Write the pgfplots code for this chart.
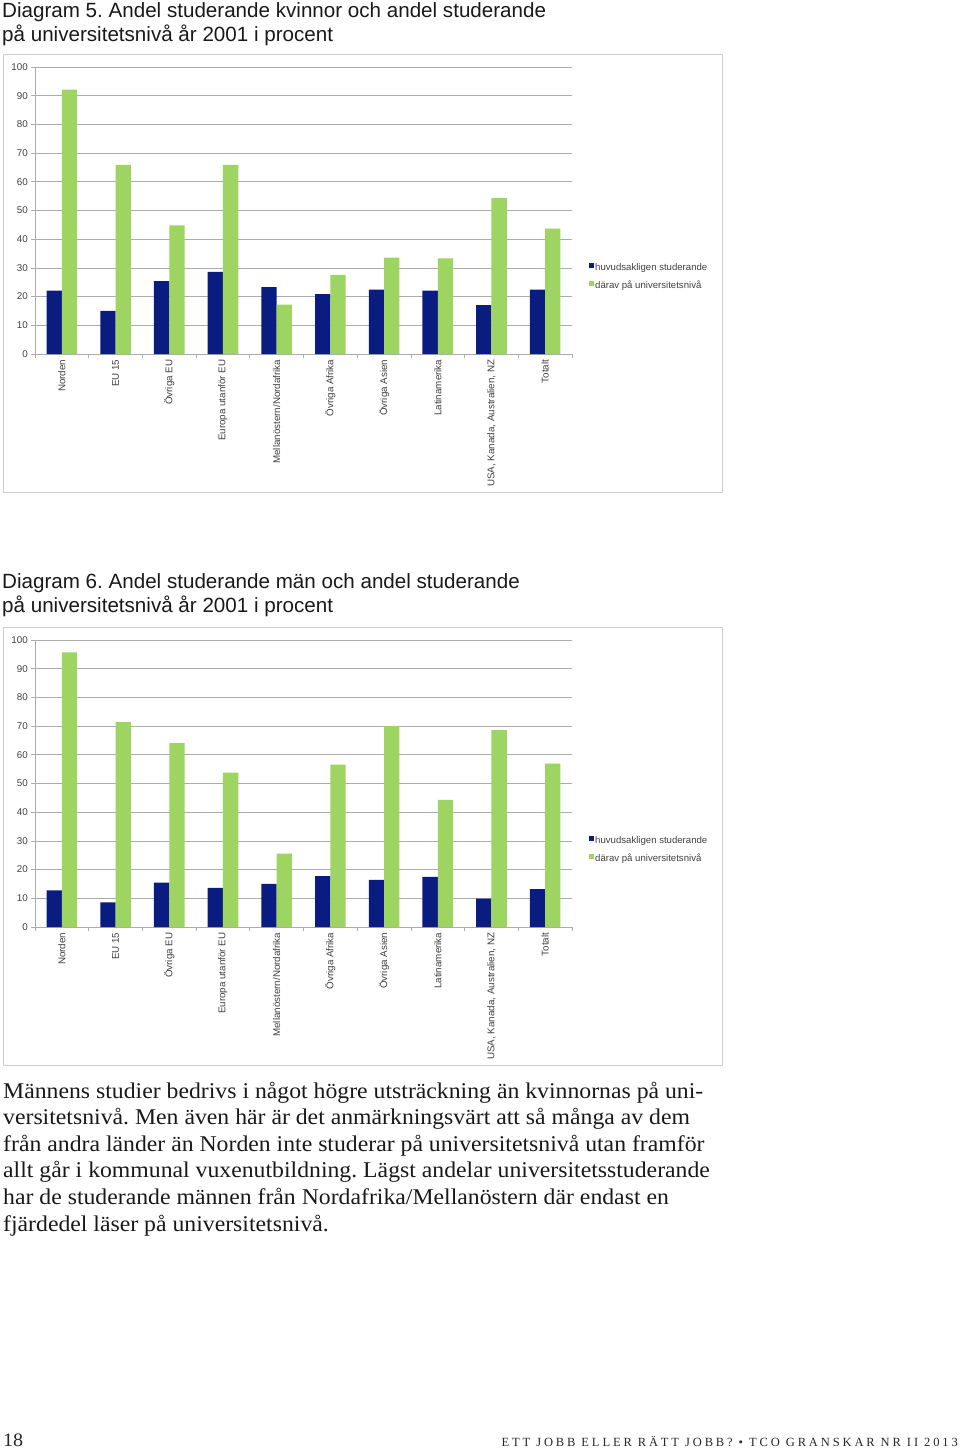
\documentclass[border=0pt]{standalone}
\usepackage{fontspec}
\setmainfont{Liberation Sans}
\newfontfamily\bodyfont[FakeStretch=1.055]{Liberation Serif}
\newfontfamily\footfont[LetterSpace=23]{Liberation Serif}
\usepackage{pgfplots}
\pgfplotsset{compat=1.18}
\definecolor{navy}{RGB}{10,28,128}
\definecolor{lgreen}{RGB}{157,212,98}
\definecolor{gridc}{RGB}{172,172,172}
\definecolor{framec}{RGB}{205,205,205}
\frenchspacing

\pgfplotsset{
  studplot/.style={
    scale only axis, width=537pt, height=287pt,
    anchor=south west,
    xmin=-0.5, xmax=9.5, ymin=0, ymax=100,
    ybar=0pt, bar width=15.3pt,
    axis x line*=bottom, axis y line*=left,
    axis line style={gridc, line width=0.8pt, -},
    ytick={0,10,...,100}, ymajorgrids,
    grid style={gridc, line width=0.8pt},
    xtick={0,...,9},
    xticklabels={Norden, EU 15, Övriga EU, Europa utanför EU, Mellanöstern/Nordafrika,
      Övriga Afrika, Övriga Asien, Latinamerika, {USA, Kanada, Australien, NZ}, Totalt},
    minor xtick={-0.5,0.5,...,9.5},
    major x tick style={draw=none},
    tick align=outside, major tick length=4pt, minor tick length=4pt,
    tick style={gridc, line width=0.8pt},
    tick label style={font=\fontsize{9.8}{11}\selectfont, text=black!75},
    x tick label style={rotate=90, anchor=east, inner sep=1.5pt},
    y tick label style={inner sep=3pt},
    /pgf/number format/assume math mode=true,
    legend style={at={(1.0317,0.3206)}, anchor=north west, draw=none, fill=none,
      inner sep=0pt, font=\fontsize{9.6}{11}\selectfont, text=black!75,
      row sep=7pt, nodes={inner sep=1pt}},
    legend cell align=left,
  },
  sqleg/.style={legend image code/.code={\fill[##1,draw=none] (0pt,-0.5pt) rectangle (5pt,4.5pt);}},
}

\begin{document}
\begin{tikzpicture}
\useasboundingbox (0,0) rectangle (960pt,-1451pt);

% Diagram 5
\node[anchor=base west, inner sep=0, font=\fontsize{20.6}{24}\selectfont, text=black!90]
  at (2pt,-17.5pt) {Diagram 5. Andel studerande kvinnor och andel studerande};
\node[anchor=base west, inner sep=0, font=\fontsize{20.6}{24}\selectfont, text=black!90]
  at (2pt,-41pt) {på universitetsnivå år 2001 i procent};
\draw[framec, line width=0.9pt] (3pt,-54pt) rectangle (722pt,-492pt);

\begin{axis}[studplot, at={(35pt,-354pt)}]
  \addplot[fill=navy, draw=none, sqleg] coordinates {
    (0,22.1) (1,15.0) (2,25.4) (3,28.6) (4,23.3)
    (5,20.9) (6,22.4) (7,22.1) (8,17.0) (9,22.4)
  };
  \addplot[fill=lgreen, draw=none, sqleg] coordinates {
    (0,92.1) (1,65.9) (2,44.8) (3,65.9) (4,17.2)
    (5,27.6) (6,33.6) (7,33.3) (8,54.4) (9,43.7)
  };
  \legend{huvudsakligen studerande, därav på universitetsnivå}
\end{axis}

% Diagram 6
\node[anchor=base west, inner sep=0, font=\fontsize{20.6}{24}\selectfont, text=black!90]
  at (2pt,-588.5pt) {Diagram 6. Andel studerande män och andel studerande};
\node[anchor=base west, inner sep=0, font=\fontsize{20.6}{24}\selectfont, text=black!90]
  at (2pt,-612pt) {på universitetsnivå år 2001 i procent};
\draw[framec, line width=0.9pt] (3pt,-627pt) rectangle (722pt,-1065pt);

\begin{axis}[studplot, at={(35pt,-927pt)}]
  \addplot[fill=navy, draw=none, sqleg] coordinates {
    (0,12.8) (1,8.6) (2,15.5) (3,13.6) (4,15.0)
    (5,17.7) (6,16.4) (7,17.5) (8,9.9) (9,13.2)
  };
  \addplot[fill=lgreen, draw=none, sqleg] coordinates {
    (0,95.7) (1,71.4) (2,64.1) (3,53.8) (4,25.6)
    (5,56.6) (6,70.1) (7,44.3) (8,68.6) (9,56.9)
  };
  \legend{huvudsakligen studerande, därav på universitetsnivå}
\end{axis}

% body text
\begin{scope}[every node/.style={anchor=base west, inner sep=0, font=\bodyfont\fontsize{22.5}{26}\selectfont, text=black!90}]
\node at (3pt,-1098pt) {Männens studier bedrivs i något högre utsträckning än kvinnornas på uni-};
\node at (3pt,-1124.6pt) {versitetsnivå. Men även här är det anmärkningsvärt att så många av dem};
\node at (3pt,-1151.2pt) {från andra länder än Norden inte studerar på universitetsnivå utan framför};
\node at (3pt,-1177.8pt) {allt går i kommunal vuxenutbildning. Lägst andelar universitetsstuderande};
\node at (3pt,-1204.4pt) {har de studerande männen från Nordafrika/Mellanöstern där endast en};
\node at (3pt,-1231pt) {fjärdedel läser på universitetsnivå.};
\end{scope}

% footer
\node[anchor=base west, inner sep=0, font=\bodyfont\fontsize{19}{22}\selectfont, text=black!85]
  at (3pt,-1446pt) {18};
\node[anchor=base east, inner sep=0, font=\footfont\fontsize{12.5}{14}\selectfont, text=black!85]
  at (958pt,-1446pt) {ETT JOBB ELLER RÄTT JOBB? • TCO GRANSKAR NR II 2013};
\end{tikzpicture}
\end{document}
